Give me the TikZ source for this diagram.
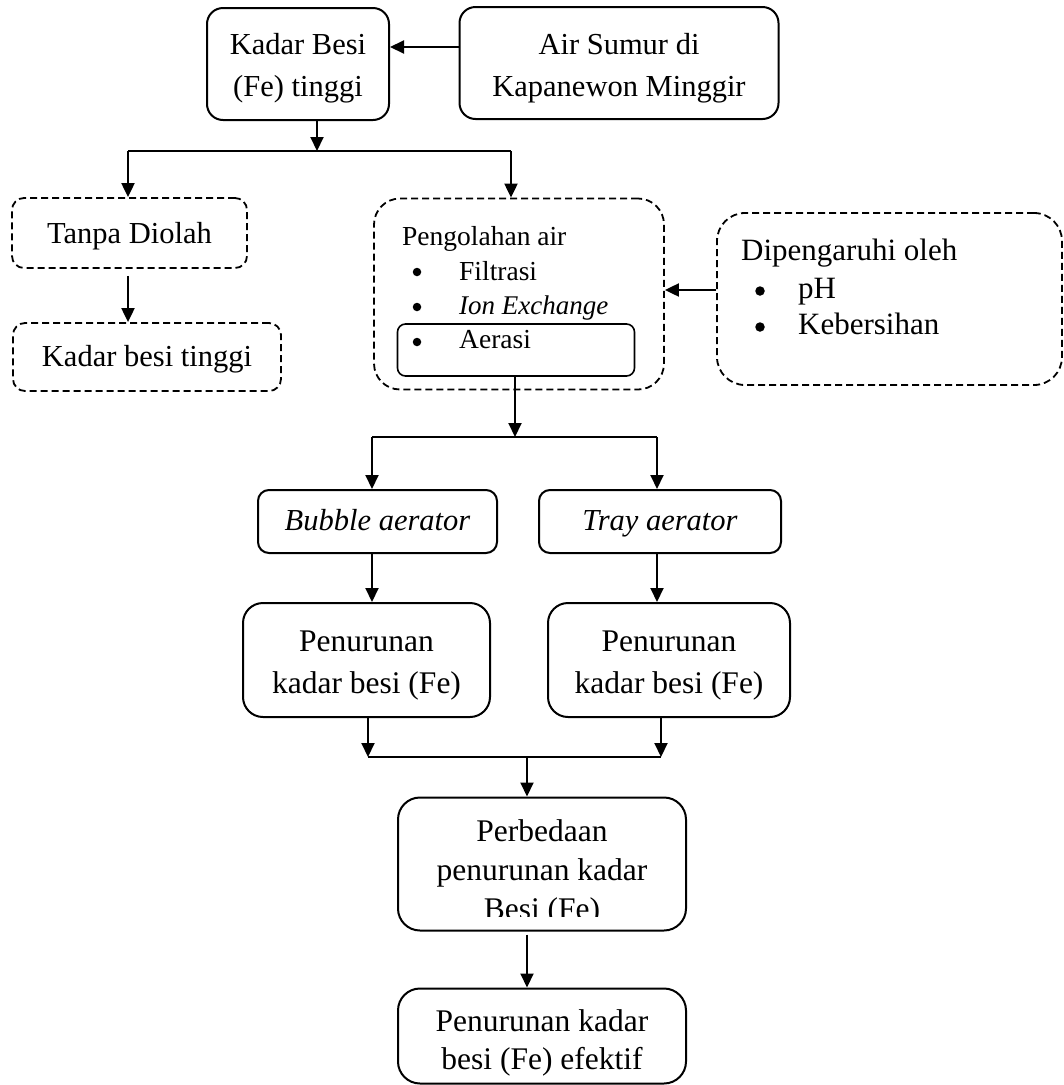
\documentclass[tikz,border=0pt]{standalone}
\usepackage{fontspec}
\setmainfont{Liberation Serif}
\usetikzlibrary{arrows.meta}
\newcommand{\tb}[2][2pt]{\raisebox{-#1}[\height][\depth]{\begin{tabular}{@{}c@{}}#2\end{tabular}}}
\begin{document}
\begin{tikzpicture}[x=1pt,y=-1pt,
  box/.style={draw, line width=2pt, rounded corners=16pt, inner sep=0pt, font=\fontsize{30.5}{42}\selectfont},
  dbox/.style={box, dash pattern=on 7pt off 4pt, line width=1.8pt},
  arr/.style={-{Triangle[length=14pt,width=13pt]}, line width=2pt},
  ln/.style={line width=2pt},
  dot/.style={circle, fill, inner sep=0pt, minimum size=#1},
  txt/.style={inner sep=0pt, anchor=base west, font=\fontsize{31}{40}\selectfont},
  stxt/.style={inner sep=0pt, anchor=base west, font=\fontsize{27.5}{32}\selectfont}]
\useasboundingbox (0,0) rectangle (1064,1085);

% top row
\node[box, minimum width=182pt, minimum height=112pt] (kb) at (298,64) {\tb[3pt]{Kadar Besi\\(Fe) tinggi}};
\node[box, minimum width=319pt, minimum height=112pt] (air) at (619,63) {\tb[4pt]{Air Sumur di\\Kapanewon Minggir}};
\draw[arr] ([yshift=16pt]air.west) -- ([yshift=16pt]air.west -| kb.east);

% first split
\coordinate (j1) at (317,151);
\coordinate (j1l) at (128,151);
\coordinate (j1r) at (511,151);
\draw[arr] (kb.south -| j1) -- (j1);
\draw[ln] (j1l) -- (j1r);

% left branch
\node[dbox, rounded corners=12pt, minimum width=235pt, minimum height=70pt] (tanpa) at (129.5,233) {\tb{Tanpa Diolah}};
\node[dbox, rounded corners=12pt, minimum width=268pt, minimum height=68pt] (kbt) at (147,357) {\tb[1pt]{Kadar besi tinggi}};
\draw[arr] (j1l) -- (tanpa.north -| j1l);
\draw[arr] ([yshift=-7pt]tanpa.south -| j1l) -- (kbt.north -| j1l);

% water treatment box
\node[dbox, rounded corners=26pt, minimum width=290pt, minimum height=191pt] (peng) at (519,294) {};
\draw[arr] (j1r) -- (peng.north -| j1r);
\node[draw, line width=1.6pt, rounded corners=8pt, minimum width=237pt, minimum height=52pt] (aer) at (516,350) {};
\node[stxt] (tp) at (402,245) {Pengolahan air};
\node[dot=8.5pt] (bu1) at (417,272) {};
\node[stxt] (tf) at (459,280) {Filtrasi};
\node[dot=8.5pt] (bu2) at (417,307) {};
\node[stxt, font=\fontsize{27}{32}\selectfont\itshape] (ti) at (459,314) {Ion Exchange};
\node[dot=8.5pt] (bu3) at (417,342) {};
\node[stxt] (ta) at (459,348) {Aerasi};

% influence box
\node[dbox, rounded corners=28pt, minimum width=345pt, minimum height=172pt] (dip) at (889.5,299) {};
\node[txt] (td) at (741,260) {Dipengaruhi oleh};
\node[dot=9.5pt] (bu4) at (760,291) {};
\node[txt] (tph) at (798,298) {pH};
\node[dot=9.5pt] (bu5) at (760,327) {};
\node[txt] (tk) at (798,334) {Kebersihan};
\draw[arr] ([yshift=9pt]dip.west) -- ([yshift=9pt]dip.west -| peng.east);

% second split
\coordinate (j2) at (515,437);
\coordinate (j2l) at (372,437);
\coordinate (j2r) at (657,437);
\draw[arr] (aer.south -| j2) -- (j2);
\draw[ln] (j2l) -- (j2r);

\node[box, rounded corners=11pt, minimum width=239pt, minimum height=63pt, font=\fontsize{30.5}{40}\selectfont\itshape] (bub) at (377.5,521.5) {\tb[1pt]{Bubble aerator}};
\node[box, rounded corners=11pt, minimum width=242pt, minimum height=63pt, font=\fontsize{30.5}{40}\selectfont\itshape] (tray) at (660,521.5) {\tb[1pt]{Tray aerator}};
\draw[arr] (j2l) -- (bub.north -| j2l);
\draw[arr] (j2r) -- (tray.north -| j2r);

\node[box, rounded corners=20pt, minimum width=247pt, minimum height=114pt, font=\fontsize{31.5}{42}\selectfont] (penl) at (366.5,660) {\tb[4pt]{Penurunan\\kadar besi (Fe)}};
\node[box, rounded corners=20pt, minimum width=242pt, minimum height=114pt, font=\fontsize{31.5}{42}\selectfont] (penr) at (669,660) {\tb[4pt]{Penurunan\\kadar besi (Fe)}};
\draw[arr] (bub.south -| j2l) -- (penl.north -| j2l);
\draw[arr] (tray.south -| j2r) -- (penr.north -| j2r);

% merge
\coordinate (j3) at (527,757);
\coordinate (j3l) at (368,757);
\coordinate (j3r) at (661,757);
\draw[arr] (penl.south -| j3l) -- (j3l);
\draw[arr] (penr.south -| j3r) -- (j3r);
\draw[ln] (j3l) -- (j3r);

\node[box, rounded corners=22pt, minimum width=288pt, minimum height=133pt] (perb) at (542,864) {};
\draw[arr] (j3) -- (perb.north -| j3);
\begin{scope}
  \clip (402,800) rectangle (682,916);
  \node[box, draw=none, font=\fontsize{31.5}{39}\selectfont] (perbt) at (542,864) {\tb[9pt]{Perbedaan\\penurunan kadar\\Besi (Fe)}};
\end{scope}

\node[box, rounded corners=22pt, minimum width=288pt, minimum height=95pt, font=\fontsize{31.5}{38}\selectfont] (fin) at (542,1036) {\tb[7pt]{Penurunan kadar\\besi (Fe) efektif}};
\draw[arr] ([yshift=-3pt]perb.south -| j3) -- (fin.north -| j3);
\end{tikzpicture}
\end{document}
